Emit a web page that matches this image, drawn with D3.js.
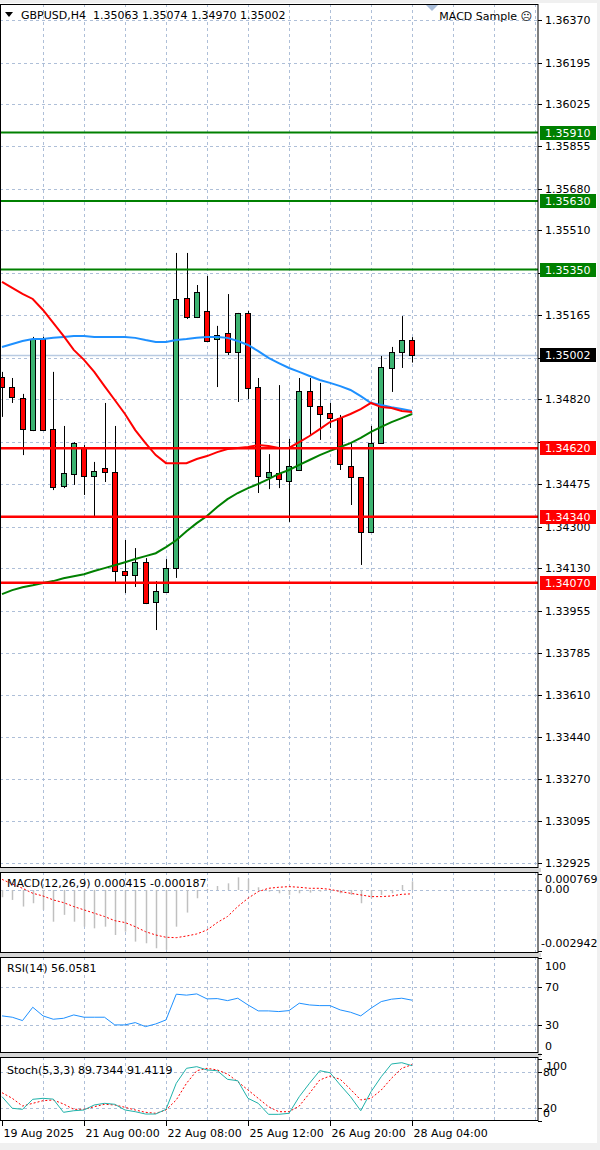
<!DOCTYPE html>
<html><head><meta charset="utf-8">
<script src="https://cdn.jsdelivr.net/npm/d3@7"></script>
<style>
html,body{margin:0;padding:0;background:#f0f0f0;}
svg{display:block;}
text{font-family:"DejaVu Sans",sans-serif;font-size:11px;fill:#000;white-space:pre;}
</style></head><body>
<svg id="chart" width="600" height="1150"></svg>
<script>
// ---------- data ----------
const timeLabels = ["19 Aug 2025","21 Aug 00:00","22 Aug 08:00","25 Aug 12:00","26 Aug 20:00","28 Aug 04:00"];
const timeLabelBars = [0,8,16,24,32,40];
const opens  = [1.34911,1.34870,1.34825,1.34695,1.35066,1.34699,1.34466,1.34515,1.34625,1.34507,1.34539,1.34523,1.34118,1.34102,1.34155,1.33992,1.34033,1.34131,1.35234,1.35156,1.35181,1.35066,1.35091,1.35013,1.35173,1.34870,1.34502,1.34519,1.34486,1.34531,1.34854,1.34793,1.34764,1.34744,1.34547,1.34502,1.34278,1.34641,1.34948,1.35013,1.35063];
const highs  = [1.34932,1.34907,1.34842,1.35075,1.35075,1.34932,1.34711,1.34645,1.34633,1.34564,1.34805,1.34711,1.34245,1.34212,1.34171,1.34077,1.34167,1.35418,1.35418,1.35287,1.35324,1.35120,1.35250,1.35173,1.35181,1.34907,1.34596,1.34878,1.34658,1.34907,1.34907,1.34887,1.34805,1.34756,1.34641,1.34502,1.34711,1.34997,1.35034,1.35160,1.35074];
const lows   = [1.34748,1.34805,1.34592,1.34690,1.34690,1.34449,1.34457,1.34470,1.34429,1.34339,1.34482,1.34073,1.34028,1.34053,1.33983,1.33877,1.34030,1.34090,1.35148,1.35152,1.35054,1.34870,1.35001,1.34809,1.34821,1.34437,1.34453,1.34457,1.34319,1.34527,1.34674,1.34654,1.34703,1.34531,1.34388,1.34143,1.34278,1.34641,1.34850,1.34948,1.34970];
const closes = [1.34870,1.34829,1.34699,1.35066,1.34695,1.34462,1.34519,1.34641,1.34507,1.34527,1.34523,1.34118,1.34102,1.34155,1.33987,1.34037,1.34131,1.35230,1.35156,1.35258,1.35058,1.35083,1.35013,1.35173,1.34866,1.34507,1.34523,1.34494,1.34547,1.34854,1.34793,1.34760,1.34744,1.34556,1.34502,1.34278,1.34641,1.34952,1.35013,1.35062,1.35002];
const maRed   = [1.35300,1.35275,1.35251,1.35230,1.35185,1.35132,1.35079,1.35022,1.34981,1.34932,1.34874,1.34817,1.34760,1.34694,1.34641,1.34592,1.34559,1.34559,1.34559,1.34576,1.34588,1.34604,1.34617,1.34621,1.34625,1.34633,1.34629,1.34621,1.34621,1.34645,1.34670,1.34698,1.34727,1.34743,1.34760,1.34780,1.34805,1.34788,1.34784,1.34772,1.34768];
const maBlue  = [1.35034,1.35046,1.35058,1.35066,1.35066,1.35071,1.35075,1.35079,1.35079,1.35075,1.35075,1.35075,1.35075,1.35071,1.35062,1.35054,1.35054,1.35062,1.35066,1.35071,1.35075,1.35075,1.35071,1.35058,1.35042,1.35017,1.34989,1.34968,1.34948,1.34932,1.34915,1.34899,1.34887,1.34874,1.34858,1.34833,1.34805,1.34797,1.34788,1.34780,1.34772];
const maGreen = [1.34024,1.34040,1.34052,1.34060,1.34069,1.34077,1.34089,1.34097,1.34105,1.34118,1.34130,1.34142,1.34154,1.34167,1.34179,1.34191,1.34216,1.34244,1.34281,1.34314,1.34343,1.34380,1.34412,1.34437,1.34457,1.34474,1.34494,1.34515,1.34531,1.34552,1.34572,1.34592,1.34609,1.34625,1.34641,1.34662,1.34687,1.34707,1.34727,1.34743,1.34760];
const levelsGreen = [1.35910,1.35630,1.35350];
const levelsRed   = [1.34620,1.34340,1.34070];
const lastPrice = 1.35002;
const priceTicks = [1.36370,1.36195,1.36025,1.35855,1.35680,1.35510,1.35335,1.35165,1.34990,1.34820,1.34645,1.34475,1.34300,1.34130,1.33955,1.33785,1.33610,1.33440,1.33270,1.33095,1.32925];
const macdHist = [-0.00035,-0.00048,-0.00080,-0.00064,-0.00096,-0.00153,-0.00120,-0.00153,-0.00177,-0.00185,-0.00177,-0.00217,-0.00201,-0.00249,-0.00257,-0.00281,-0.00289,-0.00177,-0.00109,-0.00040,0.00005,0.00019,0.00032,0.00061,0.00053,0.00013,-0.00008,-0.00016,-0.00024,-0.00016,-0.00013,-0.00008,-0.00003,-0.00016,-0.00024,-0.00064,-0.00040,-0.00024,-0.00016,0.00024,0.000415];
const macdSignal = [0.00051,0.00029,0.00008,-0.00016,-0.00029,-0.00048,-0.00061,-0.00080,-0.00096,-0.00112,-0.00128,-0.00148,-0.00157,-0.00177,-0.00201,-0.00217,-0.00228,-0.00230,-0.00222,-0.00212,-0.00193,-0.00157,-0.00128,-0.00080,-0.00040,-0.00008,0.00008,0.00013,0.00016,0.00013,0.00008,0.00008,0.00003,-0.00008,-0.00016,-0.00024,-0.00032,-0.00032,-0.00029,-0.00021,-0.000187];
const macdRange = [-0.002942,0.000769];
const rsiValues = [39.7,38.3,34.8,48.7,39.7,36.2,37.2,40.7,38.3,38.3,38.3,30.3,30.3,32.7,28.5,31.3,35.5,62.3,61.3,62.6,57.4,57.7,55.6,58.1,51.1,44.9,44.9,44.2,45.2,52.9,51.1,50.4,50.4,45.9,43.5,39.7,47.7,54.6,57.1,58.1,56.06];
const stochMain = [39.0,20.0,18.3,34.7,36.3,35.0,13.4,16.0,17.2,25.4,28.1,26.5,17.2,14.4,10.6,10.6,18.3,60.9,85.4,88.1,82.7,81.5,67.4,65.1,36.3,28.1,10.1,10.1,11.8,39.0,60.9,81.5,78.2,58.1,39.0,16.0,47.1,71.7,92.5,94.6,89.73];
const stochSignal = [45.5,36.3,23.7,28.1,32.4,33.6,27.0,18.3,18.3,22.6,26.5,25.4,21.6,17.2,13.4,11.8,17.2,33.6,60.9,81.5,85.4,82.7,76.1,63.5,49.9,36.3,22.6,14.4,14.4,23.7,44.5,66.3,72.8,67.4,51.1,33.6,36.3,49.9,69.1,85.4,91.41];

// ---------- layout ----------
const svg = d3.select("#chart");
const plotR = 538;
const P = {
  main:{top:4,bottom:868},
  macd:{top:872,bottom:953},
  rsi:{top:957,bottom:1053},
  stoch:{top:1057,bottom:1121}
};
const gridColor = "#aebfd8";
const x = d3.scaleLinear().domain([0,40]).range([2,412]);
const yP = d3.scaleLinear().domain([1.32925,1.36370]).range([863,20]);
const yM = d3.scaleLinear().domain(macdRange).range([951,874]);
const yR = d3.scaleLinear().domain([0,100]).range([1054,958]);
const yS = d3.scaleLinear().domain([0,100]).range([1120.5,1059.4]);
const idx = d3.range(opens.length);
const gridBars = d3.range(4,53,4);

svg.append("rect").attr("x",0).attr("y",3).attr("width",597).attr("height",1140).attr("fill","#fff");

[[868,872],[953,957],[1053,1057]].forEach(([a,b])=>{
  svg.append("rect").attr("x",0).attr("y",a).attr("width",541).attr("height",b-a).attr("fill","#d6d6d6");
});

const defs = svg.append("defs");
Object.entries(P).forEach(([k,p])=>{
  defs.append("clipPath").attr("id","clip-"+k).append("rect")
    .attr("x",0).attr("y",p.top).attr("width",plotR).attr("height",p.bottom-p.top);
});

function vGrid(g,p){
  g.selectAll(null).data(gridBars).enter().append("line")
    .attr("x1",d=>Math.round(x(d))+0.5).attr("x2",d=>Math.round(x(d))+0.5)
    .attr("y1",p.top).attr("y2",p.bottom)
    .attr("stroke",gridColor).attr("stroke-dasharray","3,3");
}
function hGrid(g,ys){
  g.selectAll(null).data(ys).enter().append("line")
    .attr("x1",0).attr("x2",plotR).attr("y1",d=>Math.round(d)+0.5).attr("y2",d=>Math.round(d)+0.5)
    .attr("stroke",gridColor).attr("stroke-dasharray","3,3");
}

// ---------- main panel ----------
const gm = svg.append("g").attr("clip-path","url(#clip-main)");
vGrid(gm,P.main);
hGrid(gm,priceTicks.map(yP));
gm.append("line").attr("x1",0).attr("x2",plotR)
  .attr("y1",Math.round(yP(lastPrice))+0.5).attr("y2",Math.round(yP(lastPrice))+0.5)
  .attr("stroke","#b9cbe2").attr("stroke-width",1.5);

const cg = gm.append("g");
idx.forEach(i=>{
  const cx = Math.round(x(i))+0.5;
  cg.append("line").attr("x1",cx).attr("x2",cx)
    .attr("y1",yP(highs[i])).attr("y2",yP(lows[i]))
    .attr("stroke","#000").attr("stroke-width",1);
  const top = Math.min(yP(opens[i]),yP(closes[i]));
  const bot = Math.max(yP(opens[i]),yP(closes[i]));
  const bull = closes[i] >= opens[i];
  cg.append("rect").attr("x",cx-3).attr("y",Math.round(top)+0.5)
    .attr("width",5).attr("height",Math.max(1,Math.round(bot-top)))
    .attr("fill",bull?"#3cb371":"#ff0000").attr("stroke","#000").attr("stroke-width",1);
});

const line = (arr,ys)=>d3.line().x(i=>x(i)).y(i=>ys(arr[i]))(idx);
gm.append("path").attr("d",line(maGreen,yP)).attr("fill","none").attr("stroke","#008000").attr("stroke-width",2);
gm.append("path").attr("d",line(maBlue,yP)).attr("fill","none").attr("stroke","#1e90ff").attr("stroke-width",2);
gm.append("path").attr("d",line(maRed,yP)).attr("fill","none").attr("stroke","#ff0000").attr("stroke-width",2);

levelsGreen.forEach(v=>{
  gm.append("line").attr("x1",0).attr("x2",plotR).attr("y1",yP(v)).attr("y2",yP(v))
    .attr("stroke","#008000").attr("stroke-width",2);
});
levelsRed.forEach(v=>{
  gm.append("line").attr("x1",0).attr("x2",plotR).attr("y1",yP(v)).attr("y2",yP(v))
    .attr("stroke","#ff0000").attr("stroke-width",2.5);
});

// price axis
const boxed = levelsGreen.concat(levelsRed,[lastPrice]);
const axg = svg.append("g");
priceTicks.forEach(v=>{
  const y = Math.round(yP(v))+0.5;
  axg.append("line").attr("x1",plotR).attr("x2",plotR+4).attr("y1",y).attr("y2",y).attr("stroke","#000");
  const covered = boxed.some(b=>Math.abs(yP(b)-yP(v))<7);
  if(!covered) axg.append("text").attr("x",545).attr("y",y).attr("dy","0.36em").text(v.toFixed(5));
});
function priceBox(v,color){
  const y = yP(v);
  axg.append("rect").attr("x",540).attr("y",Math.round(y)-7).attr("width",56).attr("height",14).attr("fill",color);
  axg.append("text").attr("x",545).attr("y",Math.round(y)).attr("dy","0.36em").style("fill","#fff").text(v.toFixed(5));
}
levelsGreen.forEach(v=>priceBox(v,"#008000"));
levelsRed.forEach(v=>priceBox(v,"#ff0000"));
priceBox(lastPrice,"#000");

svg.append("path").attr("d","M5,12 L13,12 L9,17 Z").attr("fill","#000");
svg.append("text").attr("x",21).attr("y",15).attr("dy","0.36em").text("GBPUSD,H4  1.35063 1.35074 1.34970 1.35002");
svg.append("path").attr("d","M426,5 L438,5 L432,11 Z").attr("fill","#a8bcd8");
svg.append("text").attr("x",532).attr("y",16).attr("dy","0.36em").attr("text-anchor","end").text("MACD Sample \u2639");

// ---------- MACD ----------
const gmc = svg.append("g").attr("clip-path","url(#clip-macd)");
vGrid(gmc,P.macd);
hGrid(gmc,[yM(0)]);
gmc.selectAll(null).data(idx).enter().append("line")
  .attr("x1",i=>Math.round(x(i))+0.5).attr("x2",i=>Math.round(x(i))+0.5)
  .attr("y1",yM(0)).attr("y2",i=>yM(macdHist[i]))
  .attr("stroke","#c0c0c0").attr("stroke-width",1.5);
gmc.append("path").attr("d",line(macdSignal,yM)).attr("fill","none").attr("stroke","#ff0000").attr("stroke-width",1).attr("stroke-dasharray","2,2");
svg.append("text").attr("x",7).attr("y",883).attr("dy","0.36em").text("MACD(12,26,9) 0.000415 -0.000187");
[macdRange[1],0,macdRange[0]].forEach(v=>{
  const y = Math.round(yM(v))+0.5;
  svg.append("line").attr("x1",plotR).attr("x2",plotR+4).attr("y1",y).attr("y2",y).attr("stroke","#000");
});
svg.append("text").attr("x",545).attr("y",879).attr("dy","0.36em").text(macdRange[1].toFixed(6));
svg.append("text").attr("x",545).attr("y",889).attr("dy","0.36em").text("0.00");
svg.append("text").attr("x",541).attr("y",943).attr("dy","0.36em").text(macdRange[0].toFixed(6));

// ---------- RSI ----------
const gr = svg.append("g").attr("clip-path","url(#clip-rsi)");
vGrid(gr,P.rsi);
hGrid(gr,[yR(70),yR(30)]);
gr.append("path").attr("d",line(rsiValues,yR)).attr("fill","none").attr("stroke","#1e90ff").attr("stroke-width",1);
svg.append("text").attr("x",7).attr("y",968).attr("dy","0.36em").text("RSI(14) 56.0581");
[[100,966],[70,987],[30,1025],[0,1046]].forEach(([v,ty])=>{
  const y = Math.round(yR(v))+0.5;
  svg.append("line").attr("x1",plotR).attr("x2",plotR+4).attr("y1",y).attr("y2",y).attr("stroke","#000");
  svg.append("text").attr("x",545).attr("y",ty).attr("dy","0.36em").text(String(v));
});

// ---------- Stochastic ----------
const gs = svg.append("g").attr("clip-path","url(#clip-stoch)");
vGrid(gs,P.stoch);
hGrid(gs,[yS(80),yS(20)]);
gs.append("path").attr("d",line(stochSignal,yS)).attr("fill","none").attr("stroke","#ff0000").attr("stroke-width",1).attr("stroke-dasharray","2,2");
gs.append("path").attr("d",line(stochMain,yS)).attr("fill","none").attr("stroke","#20b2aa").attr("stroke-width",1);
svg.append("text").attr("x",7).attr("y",1070).attr("dy","0.36em").text("Stoch(5,3,3) 89.7344 91.4119");
[[100,1066,546],[80,1072,543],[20,1108,543],[0,1113,543]].forEach(([v,ty,tx])=>{
  const y = Math.round(yS(v))+0.5;
  svg.append("line").attr("x1",plotR).attr("x2",plotR+4).attr("y1",y).attr("y2",y).attr("stroke","#000");
  svg.append("text").attr("x",tx).attr("y",ty).attr("dy","0.36em").text(String(v));
});

// ---------- panel borders ----------
Object.values(P).forEach(p=>{
  svg.append("rect").attr("x",0.5).attr("y",p.top+0.5).attr("width",plotR-0.5).attr("height",p.bottom-p.top-1)
    .attr("fill","none").attr("stroke","#000");
});

// ---------- time axis ----------
timeLabelBars.forEach((b,k)=>{
  const xx = Math.round(x(b))+0.5;
  svg.append("line").attr("x1",xx).attr("x2",xx).attr("y1",P.stoch.bottom).attr("y2",P.stoch.bottom+5).attr("stroke","#000");
  svg.append("text").attr("x",xx+1).attr("y",1133).attr("dy","0.36em").text(timeLabels[k]);
});
</script>
</body></html>
